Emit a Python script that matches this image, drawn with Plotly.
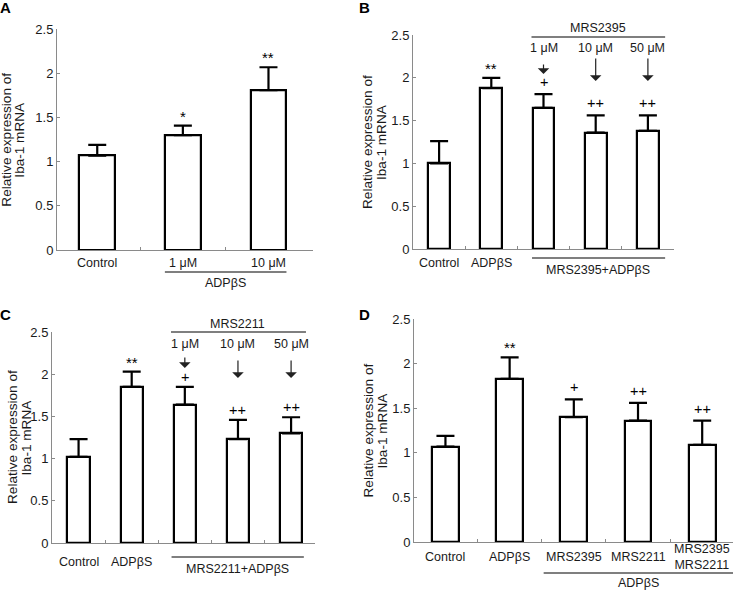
import plotly.graph_objects as go

W, H = 734, 590
FONT = "Liberation Sans, Arial, sans-serif"

# ---------------- data ----------------
a_labels = ["Control", "1 μM", "10 μM"]
a_mean = [1.07, 1.30, 1.81]
a_err = [0.12, 0.11, 0.26]
a_sig = ["", "*", "**"]

b_labels = ["Control", "ADPβS"]
b_conc = ["1 μM", "10 μM", "50 μM"]
b_mean = [1.00, 1.88, 1.65, 1.36, 1.38]
b_err = [0.26, 0.12, 0.16, 0.20, 0.18]
b_sig = ["", "**", "+", "++", "++"]

c_labels = ["Control", "ADPβS"]
c_conc = ["1 μM", "10 μM", "50 μM"]
c_mean = [1.02, 1.85, 1.64, 1.23, 1.30]
c_err = [0.21, 0.18, 0.21, 0.23, 0.19]
c_sig = ["", "**", "+", "++", "++"]

d_labels = ["Control", "ADPβS", "MRS2395", "MRS2211", "MRS2395<br>MRS2211"]
d_mean = [1.07, 1.83, 1.40, 1.36, 1.09]
d_err = [0.12, 0.24, 0.20, 0.20, 0.27]
d_sig = ["", "**", "+", "++", "++"]

y_ticks = [0, 0.5, 1, 1.5, 2, 2.5]
y_title = ["Relative expression of", "Iba-1 mRNA"]


def px(x):
    return x / W


def py(y):
    return 1 - y / H


panels = [
    dict(mean=a_mean, err=a_err, sig=a_sig, xd=(57, 313), yd=(250, 29.3),
         xr=[-0.47, 2.52], tx=(7, 20), letter="A", lx=(6, 7)),
    dict(mean=b_mean, err=b_err, sig=b_sig, xd=(413, 674), yd=(249, 35),
         xr=[-0.5, 4.5], tx=(367, 381), letter="B", lx=(364, 7)),
    dict(mean=c_mean, err=c_err, sig=c_sig, xd=(52, 315), yd=(543, 332),
         xr=[-0.5, 4.45], tx=(12.5, 26), letter="C", lx=(6, 314)),
    dict(mean=d_mean, err=d_err, sig=d_sig, xd=(414, 733), yd=(542, 319),
         xr=[-0.49, 4.48], tx=(368, 382), letter="D", lx=(364, 314)),
]

fig = go.Figure()
annotations = []
shapes = []
AXC = "#8a8a8a"

for i, p in enumerate(panels):
    k = "" if i == 0 else str(i + 1)
    n = len(p["mean"])
    xs = list(range(n))
    fig.add_trace(go.Bar(
        x=xs, y=p["mean"], width=0.42, xaxis="x" + k, yaxis="y" + k,
        marker=dict(color="white", line=dict(color="black", width=2.2)),
        error_y=dict(type="data", array=p["err"], symmetric=False,
                     arrayminus=[0] * n, color="black", thickness=2.2, width=9),
        showlegend=False, hoverinfo="skip"))
    fig.layout["xaxis" + k] = dict(
        domain=[px(p["xd"][0]), px(p["xd"][1])], anchor="y" + k,
        range=p["xr"], showline=True, linecolor=AXC, linewidth=1,
        tickmode="array", tickvals=[j + 0.5 for j in range(n - 1)],
        ticks="inside", ticklen=3, tickcolor=AXC, showticklabels=False,
        showgrid=False, zeroline=False, fixedrange=True, automargin=False)
    fig.layout["yaxis" + k] = dict(
        domain=[py(p["yd"][0]), py(p["yd"][1])], anchor="x" + k,
        range=[0, 2.5], showline=True, linecolor=AXC, linewidth=1,
        tickmode="array", tickvals=y_ticks, ticks="inside", ticklen=3,
        tickcolor=AXC, tickfont=dict(family=FONT, size=13, color="#1a1a1a"),
        showgrid=False, zeroline=False, fixedrange=True, automargin=False)
    ymid = (p["yd"][0] + p["yd"][1]) / 2
    for line, tx in zip(y_title, p["tx"]):
        annotations.append(dict(
            text=line, x=px(tx), y=py(ymid), xref="paper", yref="paper",
            textangle=-90, showarrow=False, xanchor="center", yanchor="middle",
            font=dict(family=FONT, size=13.6, color="#1a1a1a")))
    annotations.append(dict(
        text="<b>%s</b>" % p["letter"], x=px(p["lx"][0]), y=py(p["lx"][1]),
        xref="paper", yref="paper", showarrow=False, xanchor="center",
        yanchor="middle", font=dict(family=FONT, size=15, color="black")))
    for j, s in enumerate(p["sig"]):
        if not s:
            continue
        plus = s.startswith("+")
        annotations.append(dict(
            text=s, x=j, y=p["mean"][j] + p["err"][j], xref="x" + k,
            yref="y" + k, showarrow=False, xanchor="center", yanchor="bottom",
            yshift=(0 if k == "3" else 2) if plus else -1,
            font=dict(family=FONT, size=14.5 if plus else 15, color="black")))


def cat_label(text, xi, ypx, k):
    annotations.append(dict(
        text=text, x=xi, y=py(ypx), xref="x" + k, yref="paper",
        showarrow=False, xanchor="center", yanchor="middle",
        font=dict(family=FONT, size=12.5, color="#1a1a1a")))


def hline(x0, x1, ypx, k):
    shapes.append(dict(type="line", x0=x0, x1=x1, y0=py(ypx), y1=py(ypx),
                       xref="x" + k, yref="paper",
                       line=dict(color="#555555", width=1.3)))


def arrow(xi, ytip, ystart, k):
    annotations.append(dict(
        text="", x=xi, y=py(ytip), xref="x" + k, yref="paper",
        showarrow=True, ax=0, ay=-(ytip - ystart), axref="pixel",
        ayref="pixel", arrowhead=1, arrowsize=1.6, arrowwidth=1.2,
        arrowcolor="#222222", standoff=0))


# ---- Panel A ----
for j, t in enumerate(a_labels):
    cat_label(t, j, 263, "")
hline(0.79, 2.21, 272, "")
cat_label("ADPβS", 1.5, 283, "")

# ---- Panel B ----
for j, t in enumerate(b_labels):
    cat_label(t, j, 263, "2")
hline(1.78, 4.33, 258, "2")
cat_label("MRS2395+ADPβS", 3.05, 270, "2")
hline(1.77, 4.33, 37, "2")
cat_label("MRS2395", 3.05, 28, "2")
for j, t in enumerate(b_conc):
    cat_label(t, j + 2, 48, "2")
arrow(2, 74, 63, "2")
arrow(3, 81, 57, "2")
arrow(4, 81, 57, "2")

# ---- Panel C ----
for j, t in enumerate(c_labels):
    cat_label(t, j, 562, "3")
hline(1.75, 4.24, 557, "3")
cat_label("MRS2211+ADPβS", 3.0, 569, "3")
hline(1.74, 4.28, 332, "3")
cat_label("MRS2211", 3.0, 324, "3")
for j, t in enumerate(c_conc):
    cat_label(t, j + 2, 344, "3")
arrow(2, 368, 356, "3")
arrow(3, 378, 359, "3")
arrow(4, 378, 359, "3")

# ---- Panel D ----
for j, t in enumerate(d_labels):
    cat_label(t, j, 557, "4")
hline(1.53, 4.48, 573, "4")
cat_label("ADPβS", 3.0, 583, "4")

fig.update_layout(
    width=W, height=H, margin=dict(l=0, r=0, t=0, b=0, autoexpand=False),
    paper_bgcolor="white", plot_bgcolor="white",
    annotations=annotations, shapes=shapes, bargap=0,
    font=dict(family=FONT, size=12.5, color="#1a1a1a"))

fig.write_html("out.html", config={"displayModeBar": False},
               post_script="document.body.style.margin='0';"
                           "document.body.style.overflow='hidden';")
